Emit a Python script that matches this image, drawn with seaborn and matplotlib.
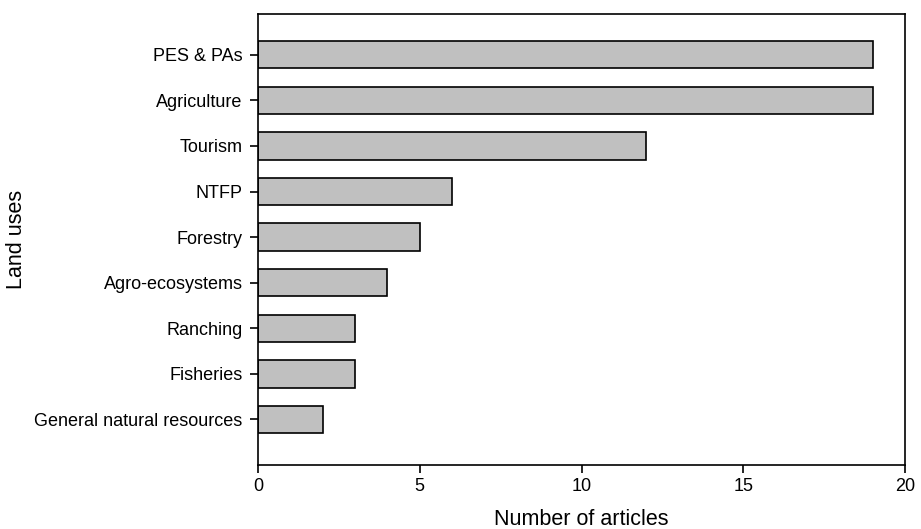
import pandas as pd
import seaborn as sns
import matplotlib.pyplot as plt

land_uses = ['PES & PAs', 'Agriculture', 'Tourism', 'NTFP', 'Forestry',
             'Agro-ecosystems', 'Ranching', 'Fisheries', 'General natural resources']
articles = [19, 19, 12, 6, 5, 4, 3, 3, 2]

df = pd.DataFrame({'Land use': land_uses, 'Articles': articles})

sns.set_style('ticks')
plt.rcParams['font.family'] = ['Liberation Sans', 'DejaVu Sans']
plt.rcParams['text.color'] = 'black'
plt.rcParams['axes.labelcolor'] = 'black'
plt.rcParams['xtick.color'] = 'black'
plt.rcParams['ytick.color'] = 'black'

fig, ax = plt.subplots(figsize=(9.21, 5.29), dpi=100)
fig.subplots_adjust(left=0.28, right=0.983, top=0.974, bottom=0.121)

sns.barplot(data=df, x='Articles', y='Land use', orient='h', ax=ax,
            color='#c0c0c0', edgecolor='black', linewidth=1.2, width=0.6,
            saturation=1)

ax.set_xlim(0, 20)
ax.set_ylim(9.0, -0.9)
ax.set_xticks([0, 5, 10, 15, 20])
ax.set_xlabel('Number of articles', fontsize=15.5, labelpad=10)
ax.set_ylabel('Land uses', fontsize=15.5, labelpad=5)
ax.tick_params(axis='both', labelsize=13, direction='out', length=6, width=1.2, color='black')
ax.tick_params(axis='y', pad=5)
for s in ax.spines.values():
    s.set_linewidth(1.2)
    s.set_color('black')

plt.savefig('out.png', dpi=100)
